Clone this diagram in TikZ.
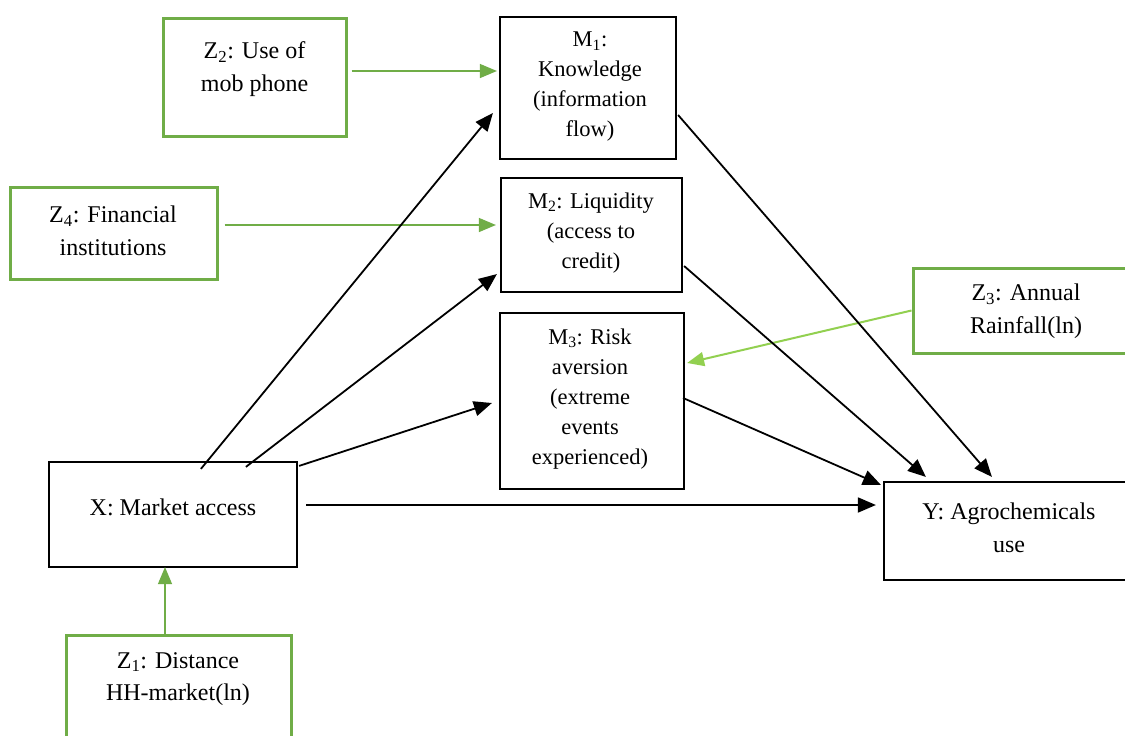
\documentclass[tikz,border=0pt]{standalone}
\usepackage{fontspec}
\setmainfont{Liberation Serif}
\usetikzlibrary{arrows.meta}
\definecolor{boxgreen}{HTML}{70AD47}
\definecolor{lightgreen}{HTML}{92D050}
\tikzset{
  x=1pt, y=-1pt,
  blackbox/.style={draw=black, line width=2.2pt, inner sep=0pt},
  greenbox/.style={draw=boxgreen, line width=3pt, inner sep=0pt},
  lbl/.style={align=center, inner sep=0pt, font=\fontsize{24}{32.5}\selectfont},
  mlbl/.style={align=center, inner sep=0pt, font=\fontsize{22.5}{30}\selectfont},
  blackarrow/.style={draw=black, line width=1.8pt, -{Triangle[length=18pt, width=15pt]}},
  greenarrow/.style={draw=boxgreen, line width=1.3pt, -{Triangle[length=17pt, width=14pt]}},
  rainarrow/.style={draw=lightgreen, line width=2pt, -{Triangle[length=17pt, width=14pt]}},
}
\newcommand{\sbs}[1]{\textsubscript{#1}}
\begin{document}
\begin{tikzpicture}
\useasboundingbox (0,0) rectangle (1125,736);
\clip (0,0) rectangle (1125,736);
\fill[white] (0,0) rectangle (1125,736);

% boxes
\node[greenbox, minimum width=183pt, minimum height=118pt] (z2) at (254.5,77) {};
\node[blackbox, minimum width=176pt, minimum height=142pt] (m1) at (588,88) {};
\node[greenbox, minimum width=207pt, minimum height=92pt] (z4) at (113.5,233) {};
\node[blackbox, minimum width=181pt, minimum height=114pt] (m2) at (591.5,235) {};
\node[blackbox, minimum width=184pt, minimum height=176pt] (m3) at (592,401) {};
\node[greenbox, minimum width=222pt, minimum height=85pt] (z3) at (1024,310.5) {};
\node[blackbox, minimum width=248pt, minimum height=105pt] (x) at (173,514.5) {};
\node[blackbox, minimum width=251pt, minimum height=98pt] (y) at (1009.5,531) {};
\node[greenbox, minimum width=225pt, minimum height=110pt] (z1) at (178.5,690) {};

% labels
\node[lbl] (z2t) at (254.5,69) {Z\sbs{2}: Use of\\mob phone};
\node[mlbl] (m1t) at (590,87) {M\sbs{1}:\\Knowledge\\(information\\flow)};
\node[lbl] (z4t) at (113,231) {Z\sbs{4}: Financial\\institutions};
\node[mlbl] (m2t) at (591,233) {M\sbs{2}: Liquidity\\(access to\\credit)};
\node[mlbl] (m3t) at (590,399) {M\sbs{3}: Risk\\aversion\\(extreme\\events\\experienced)};
\node[lbl] (z3t) at (1026,311) {Z\sbs{3}: Annual\\Rainfall(ln)};
\node[lbl] (xt) at (173,507) {X: Market access};
\node[lbl] (yt) at (1009,528) {Y: Agrochemicals\\use};
\node[lbl] (z1t) at (178,679) {Z\sbs{1}: Distance\\HH-market(ln)};

% moderators
\draw[greenarrow] ([shift={(4,-6)}]z2.east) -- ([shift={(-2,-17)}]m1.west);
\draw[greenarrow] ([shift={(6,-8)}]z4.east) -- ([shift={(-4,-10)}]m2.west);
\draw[rainarrow] (z3.west) -- ([shift={(2,-38)}]m3.east);
\draw[greenarrow] ([shift={(-13.5,0)}]z1.north) -- ([shift={(-8,-1)}]x.south);

% paths from X
\draw[blackarrow] ([shift={(153,8)}]x.north west) -- ([shift={(-6,25)}]m1.west);
\draw[blackarrow] ([shift={(198,6)}]x.north west) -- ([shift={(-3,-19)}]m2.south west);
\draw[blackarrow] ([shift={(1,5)}]x.north east) -- ([shift={(-7,2)}]m3.west);
\draw[blackarrow] ([shift={(8,-9.5)}]x.east) -- ([shift={(-7,-26)}]y.west);

% paths to Y
\draw[blackarrow] ([shift={(1,27)}]m1.east) -- ([shift={(109,-4)}]y.north west);
\draw[blackarrow] ([shift={(1,31)}]m2.east) -- ([shift={(43,-4)}]y.north west);
\draw[blackarrow] ([shift={(-2,-3)}]m3.east) -- ([shift={(-2,4)}]y.north west);
\end{tikzpicture}
\end{document}
